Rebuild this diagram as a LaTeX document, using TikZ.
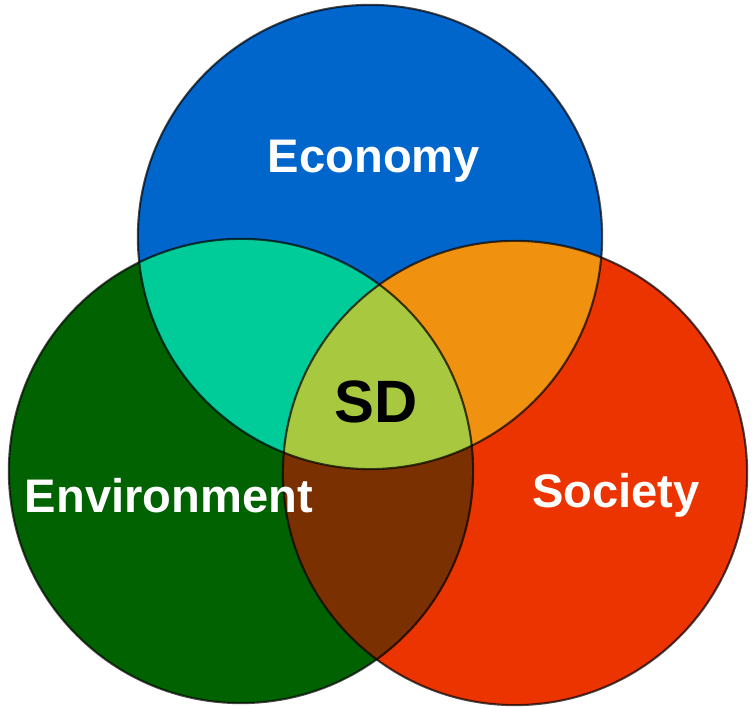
\documentclass[tikz,border=0pt]{standalone}
\usepackage{fontspec}
\setmainfont{Liberation Sans}
\usepackage{tikz}

\definecolor{econblue}{RGB}{0,102,204}
\definecolor{envgreen}{RGB}{0,98,0}
\definecolor{socred}{RGB}{236,52,0}
\definecolor{eecyan}{RGB}{0,204,153}
\definecolor{esorange}{RGB}{240,146,16}
\definecolor{ssbrown}{RGB}{122,48,0}
\definecolor{sdgreen}{RGB}{168,200,64}

\tikzset{
  lbl/.style={anchor=base, text=white, inner sep=0pt,
    font=\bfseries\fontsize{13.4pt}{16pt}\selectfont},
  rim/.style={draw=black, draw opacity=0.7, line width=0.6pt}
}
\def\rad{2.32cm}

\begin{document}
\begin{tikzpicture}[x=0.01cm,y=-0.01cm]
  \useasboundingbox (0,0) rectangle (756,707);
  \coordinate (econ) at (370,237);
  \coordinate (env) at (241,471);
  \coordinate (soc) at (515,473);
  % the three circles
  \fill[econblue] (econ) circle (\rad);
  \fill[envgreen] (env) circle (\rad);
  \fill[socred] (soc) circle (\rad);
  % pairwise overlaps
  \begin{scope}
    \clip (econ) circle (\rad);
    \fill[eecyan] (env) circle (\rad);
    \fill[esorange] (soc) circle (\rad);
  \end{scope}
  \begin{scope}
    \clip (env) circle (\rad);
    \fill[ssbrown] (soc) circle (\rad);
  \end{scope}
  % centre
  \begin{scope}
    \clip (econ) circle (\rad);
    \clip (env) circle (\rad);
    \fill[sdgreen] (soc) circle (\rad);
  \end{scope}
  \foreach \c in {econ,env,soc}
    \draw[rim] (\c) circle (\rad);
  \node[lbl] (econlbl) at (374,173) {Economy};
  \node[lbl] (envlbl) at (169,513) {Environment};
  \node[lbl] (soclbl) at (616,508) {Society};
  \node[lbl, text=black, font=\bfseries\fontsize{17pt}{20pt}\selectfont]
    (sdlbl) at (376,423) {SD};
\end{tikzpicture}
\end{document}
